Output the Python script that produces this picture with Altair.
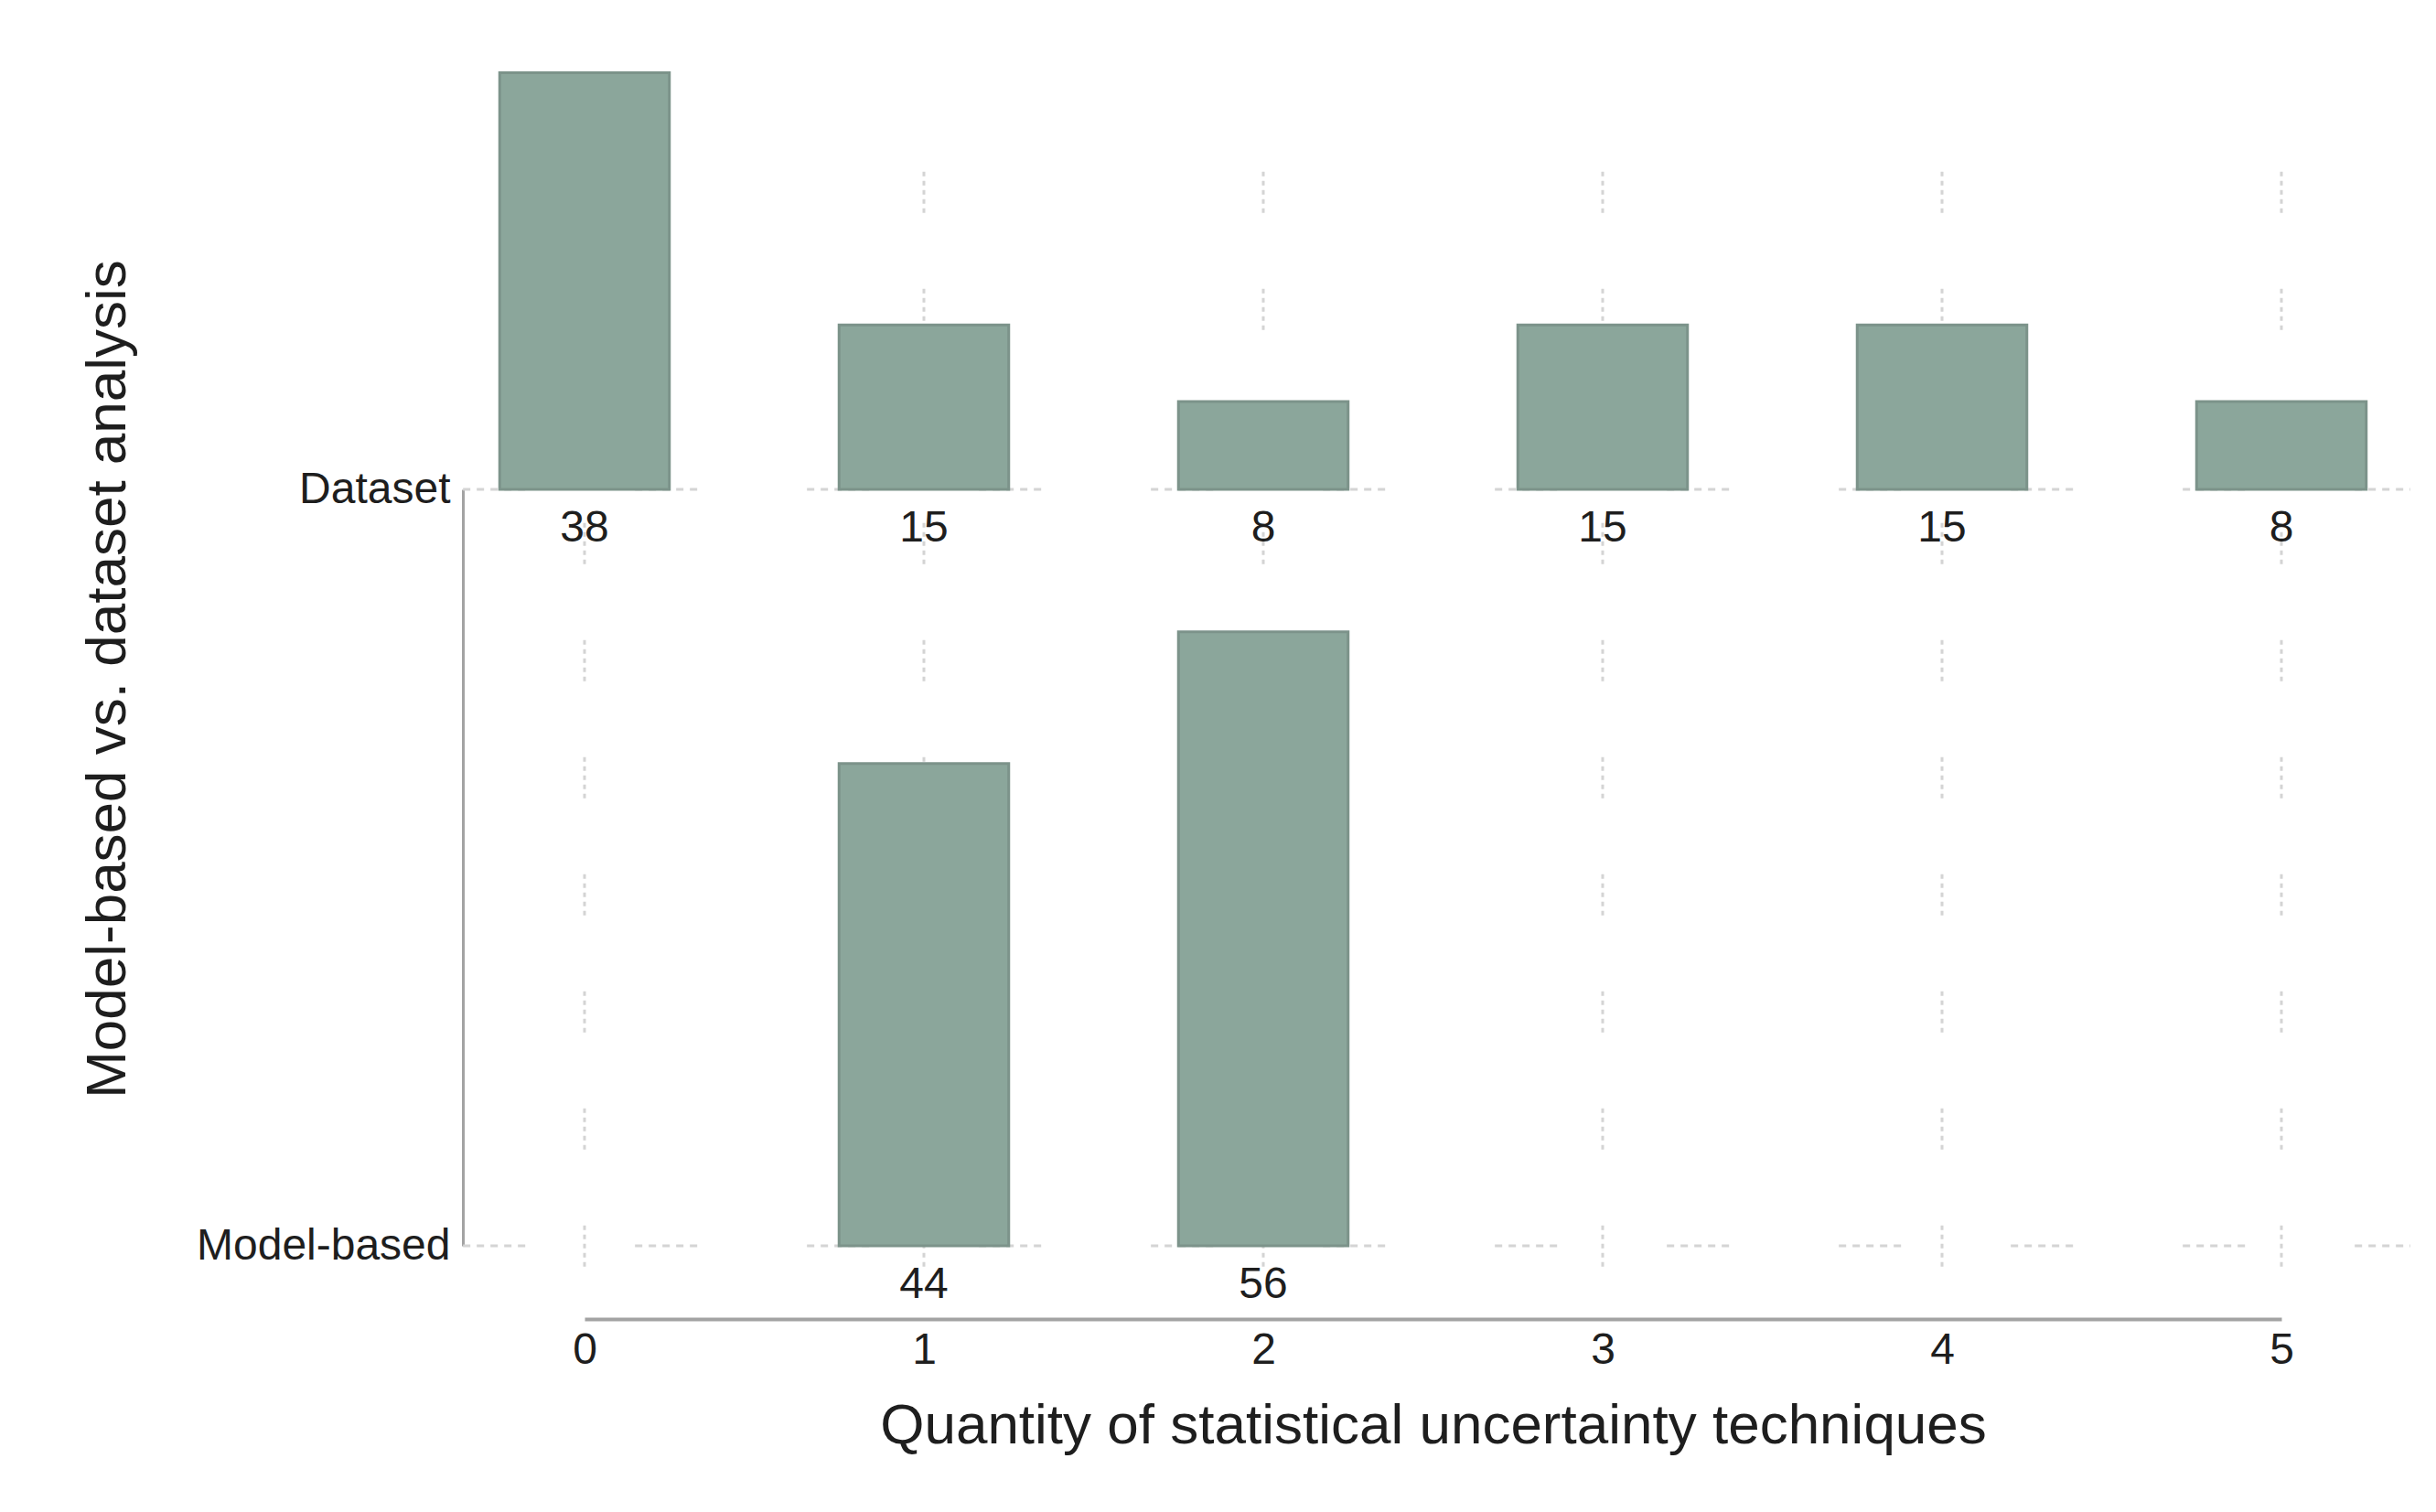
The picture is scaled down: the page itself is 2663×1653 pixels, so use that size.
import altair as alt
import pandas as pd

# ---- data ----
categories = ["Dataset", "Model-based"]
quantities = [0, 1, 2, 3, 4, 5]
dataset_pct = [38, 15, 8, 15, 15, 8]
model_quantities = [1, 2]
model_pct = [44, 56]
x_ticks = [0, 1, 2, 3, 4, 5]

# ---- layout constants (in data units) ----
ROW_GAP = 69          # vertical distance between the two category baselines
BAR_HALF = 0.25       # half bar width in x units
X_EXT = [-0.358, 5.38]  # horizontal grid extent
V_GRID = [-1.9, 101]    # vertical grid extent

FONT = "Liberation Sans"
BAR_FILL = "#8ba69b"
BAR_EDGE = "#7c938a"
GRID = "#d4d4d4"
AXIS = "#a3a3a3"
TEXT = "#1e1e1e"

rows = []
for q, v in zip(quantities, dataset_pct):
    rows.append({"group": categories[0], "q": q, "pct": v})
for q, v in zip(model_quantities, model_pct):
    rows.append({"group": categories[1], "q": q, "pct": v})
df = pd.DataFrame(rows)

xscale = alt.Scale(domain=[0, 5], nice=False, zero=False)
yscale = alt.Scale(domain=[0, ROW_GAP], nice=False, zero=False)

base = alt.Chart(df).transform_calculate(
    base=f"datum.group == '{categories[0]}' ? {ROW_GAP} : 0",
    top=f"(datum.group == '{categories[0]}' ? {ROW_GAP} : 0) + datum.pct",
    x0=f"datum.q - {BAR_HALF}",
    x1=f"datum.q + {BAR_HALF}",
)

x_axis = alt.Axis(
    values=x_ticks, format="d", grid=False, ticks=False,
    domainColor=AXIS, domainWidth=4, offset=80,
    labelFont=FONT, labelFontSize=48, labelColor=TEXT, labelPadding=10,
    labelFlush=False, labelOverlap=False,
    title="Quantity of statistical uncertainty techniques",
    titleFont=FONT, titleFontSize=62, titleFontWeight="normal", titleColor=TEXT,
    titleBaseline="alphabetic", titleY=135,
)
y_axis = alt.Axis(
    values=[0, ROW_GAP],
    labelExpr=f"datum.value == 0 ? '{categories[1]}' : '{categories[0]}'",
    offset=133, ticks=False, grid=False,
    domainColor=AXIS, domainWidth=3,
    labelFont=FONT, labelFontSize=48, labelColor=TEXT, labelPadding=14,
    labelBaseline="middle", labelLimit=0, labelFlush=False, labelOverlap=False,
    title="Model-based vs. dataset analysis",
    titleFont=FONT, titleFontSize=62, titleFontWeight="normal", titleColor=TEXT,
    titleAngle=270, titleAlign="center", titleBaseline="alphabetic",
    titleX=-370, titleY=207,
)

# vertical dashed grid
vgrid = alt.Chart(pd.DataFrame({"q": quantities, "y0": [V_GRID[0]] * 6, "y1": [V_GRID[1]] * 6})).mark_rule(
    color=GRID, strokeWidth=3, strokeDash=[5, 5, 5, 5, 5, 5, 5, 5, 5, 83]
).encode(
    x=alt.X("q:Q", scale=xscale, axis=x_axis),
    y=alt.Y("y0:Q", scale=yscale, axis=y_axis),
    y2="y1:Q",
)

# horizontal dashed grid at each category baseline
hgrid = alt.Chart(pd.DataFrame({"b": [ROW_GAP, 0], "xa": [X_EXT[0]] * 2, "xb": [X_EXT[1]] * 2})).mark_rule(
    color=GRID, strokeWidth=3, strokeDash=[8, 7, 8, 7, 8, 7, 8, 7, 8, 120]
).encode(
    x=alt.X("xa:Q", scale=xscale, axis=x_axis),
    x2="xb:Q",
    y=alt.Y("b:Q", scale=yscale, axis=y_axis),
)

bars = base.mark_rect(fill=BAR_FILL, stroke=BAR_EDGE, strokeWidth=3).encode(
    x=alt.X("x0:Q", scale=xscale, axis=x_axis),
    x2="x1:Q",
    y=alt.Y("top:Q", scale=yscale, axis=y_axis),
    y2="base:Q",
)

labels = base.mark_text(
    font=FONT, fontSize=48, color=TEXT, baseline="middle", align="center", dy=43
).encode(
    x=alt.X("q:Q", scale=xscale, axis=x_axis),
    y=alt.Y("base:Q", scale=yscale, axis=y_axis),
    text=alt.Text("pct:Q", format="d"),
)

chart = alt.layer(vgrid, hgrid, bars, labels).properties(
    width=1855,
    height=827,
    autosize=alt.AutoSizeParams(type="none"),
    padding={"left": 631, "top": 527, "right": 150, "bottom": 260},
    background="white",
).configure_view(stroke=None)

chart.save("out.html", embed_options={"renderer": "svg", "actions": False})
